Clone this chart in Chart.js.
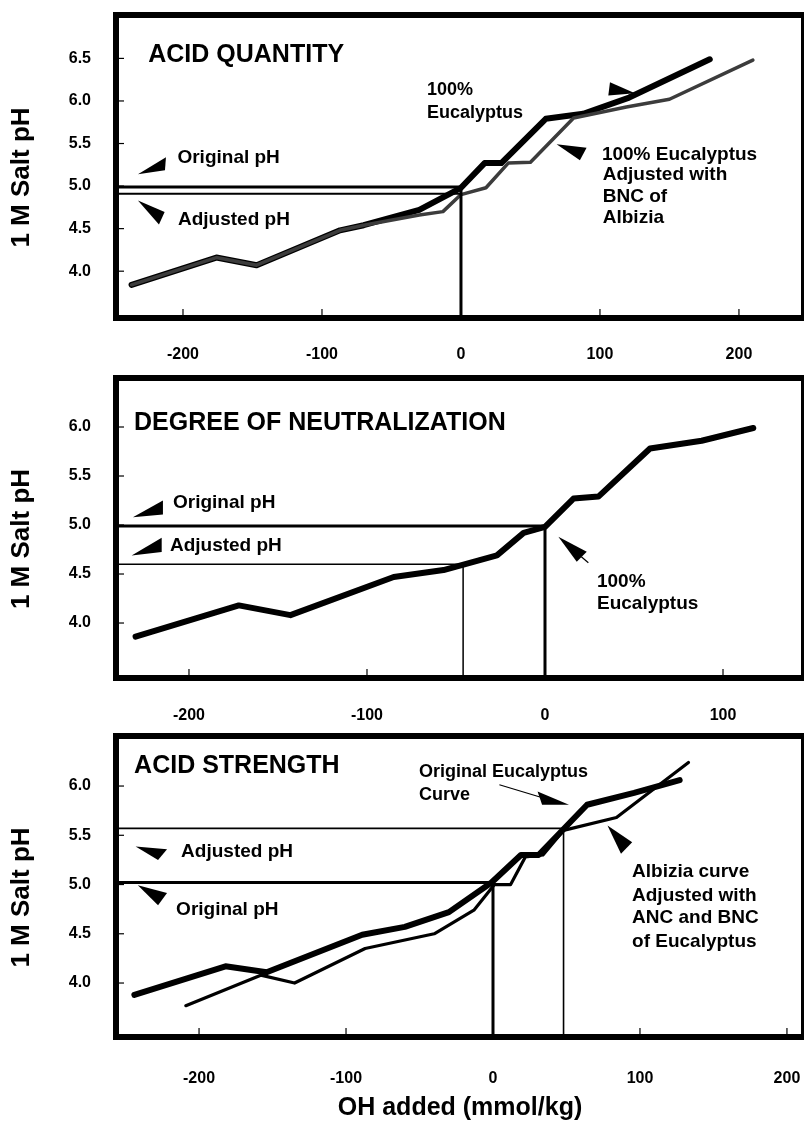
<!DOCTYPE html>
<html>
<head>
<meta charset="utf-8">
<title>Acid quantity, neutralization and strength</title>
<script src="https://cdn.jsdelivr.net/npm/chart.js@4.4.0/dist/chart.umd.min.js"></script>
<style>
  html, body { margin: 0; padding: 0; background: #fff; }
  body { width: 804px; height: 1129px; position: relative; overflow: hidden; }
  .panel { position: absolute; left: 0; width: 804px; }
  .panel canvas { display: block; }
</style>
</head>
<body>
<div class="panel" style="top:0;height:360px"><canvas id="quantity"></canvas></div>
<div class="panel" style="top:362px;height:358px"><canvas id="neutral"></canvas></div>
<div class="panel" style="top:722px;height:407px"><canvas id="strength"></canvas></div>

<script>
// ---- values (OH added in mmol/kg, 1 M salt pH) ----

// ACID QUANTITY
const quantEucX  = [-237, -176, -147, -87, -70, -30, 0, 17, 29, 61, 88, 121, 179];
const quantEucPH = [3.84, 4.16, 4.07, 4.48, 4.54, 4.72, 4.98, 5.27, 5.27, 5.79, 5.85, 6.04, 6.49];
const quantAdjX  = [-237, -176, -147, -87, -70, -30, -13, 0, 18, 34, 50, 81, 119, 150, 210];
const quantAdjPH = [3.84, 4.16, 4.07, 4.48, 4.54, 4.66, 4.70, 4.90, 4.98, 5.27, 5.28, 5.80, 5.93, 6.02, 6.48];
const quantRefPH = [4.99, 4.91];   // original, adjusted
const quantRefX  = [0, 0];

// DEGREE OF NEUTRALIZATION
const neutEucX  = [-230, -172, -143, -85, -57, -27, -12, 0, 16, 30, 59, 88, 117];
const neutEucPH = [3.86, 4.18, 4.08, 4.47, 4.54, 4.69, 4.92, 4.98, 5.27, 5.29, 5.78, 5.86, 5.99];
const neutRefPH = [4.99, 4.60];
const neutRefX  = [0, -46];

// ACID STRENGTH
const strEucX  = [-244, -182, -154, -89, -60, -30, -1, 19, 31, 64, 96, 127];
const strEucPH = [3.88, 4.17, 4.11, 4.49, 4.57, 4.72, 5.02, 5.30, 5.30, 5.81, 5.93, 6.06];
const strAlbX  = [-209, -158, -135, -87, -40, -13, 1, 12, 22, 34, 48, 84, 133];
const strAlbPH = [3.77, 4.08, 4.00, 4.35, 4.50, 4.74, 5.00, 5.00, 5.28, 5.30, 5.55, 5.68, 6.24];
const strRefPH = [5.02, 5.57];
const strRefX  = [0, 48];

// tick labels
const quantXTicks = [-200, -100, 0, 100, 200];
const quantYTicks = [4.0, 4.5, 5.0, 5.5, 6.0, 6.5];
const neutXTicks  = [-200, -100, 0, 100];
const neutYTicks  = [4.0, 4.5, 5.0, 5.5, 6.0];
const strXTicks   = [-200, -100, 0, 100, 200];
const strYTicks   = [4.0, 4.5, 5.0, 5.5, 6.0];

const FONT = '"Liberation Sans", Arial, Helvetica, sans-serif';
const Y_TITLE = '1 M Salt pH';

function pts(xs, ys) {
  return xs.map((x, i) => ({ x: x, y: ys[i] }));
}

function curve(xs, ys, width, color) {
  return {
    data: pts(xs, ys),
    borderColor: color,
    borderWidth: width,
    pointRadius: 0,
    borderCapStyle: 'round',
    borderJoinStyle: 'round',
    tension: 0
  };
}

// horizontal pH level from the left frame to the curve, then down to the x axis
function refLine(xMin, yMin, x0, ph, width) {
  return {
    data: [{ x: xMin, y: ph }, { x: x0, y: ph }, { x: x0, y: yMin }],
    borderColor: '#000',
    borderWidth: width,
    pointRadius: 0,
    borderJoinStyle: 'miter',
    tension: 0
  };
}

// frame, inner tick marks, y title, labels and arrowheads
function notesPlugin(notes, xTicks, yTicks) {
  return {
    id: 'notes',
    afterDatasetsDraw(chart) {
      const { ctx, chartArea: a } = chart;
      const sx = chart.scales.x, sy = chart.scales.y;
      ctx.save();
      ctx.fillStyle = '#000';
      ctx.strokeStyle = '#000';

      ctx.lineWidth = 1.2;
      xTicks.forEach(v => {
        const px = sx.getPixelForValue(v);
        ctx.beginPath(); ctx.moveTo(px, a.bottom); ctx.lineTo(px, a.bottom - 9); ctx.stroke();
      });
      yTicks.forEach(v => {
        const py = sy.getPixelForValue(v);
        ctx.beginPath(); ctx.moveTo(a.left, py); ctx.lineTo(a.left + 8, py); ctx.stroke();
      });

      ctx.lineWidth = 6;
      ctx.strokeRect(a.left, a.top, a.right - a.left, a.bottom - a.top);

      // rotated axis title, sitting a little below the middle of the frame
      ctx.save();
      ctx.translate(22, (a.top + a.bottom) / 2 + 11);
      ctx.rotate(-Math.PI / 2);
      ctx.textAlign = 'center';
      ctx.textBaseline = 'middle';
      ctx.font = 'bold 26px ' + FONT;
      ctx.fillText(Y_TITLE, 0, 0);
      ctx.restore();

      ctx.textBaseline = 'middle';
      ctx.textAlign = 'left';
      notes.texts.forEach(t => {
        ctx.font = (t.bold ? 'bold ' : '') + t.size + 'px ' + FONT;
        ctx.fillText(t.text, sx.getPixelForValue(t.x), sy.getPixelForValue(t.y));
      });

      notes.arrows.forEach(ar => {
        const px = sx.getPixelForValue(ar.x), py = sy.getPixelForValue(ar.y);
        ctx.beginPath();
        ctx.moveTo(px, py);
        ctx.lineTo(px + ar.p[0], py + ar.p[1]);
        ctx.lineTo(px + ar.q[0], py + ar.q[1]);
        ctx.closePath();
        ctx.fill();
        if (ar.tail) {
          ctx.lineWidth = 1.2;
          ctx.beginPath();
          ctx.moveTo(px + ar.tail[0], py + ar.tail[1]);
          ctx.lineTo(px + ar.tail[2], py + ar.tail[3]);
          ctx.stroke();
        }
      });
      ctx.restore();
    }
  };
}

// keep the plot frame where the figure has it: no extra room for edge labels
function noEdgePadding(s) {
  s.paddingTop = 0;
  s.paddingBottom = 0;
  s.paddingLeft = 0;
  s.paddingRight = 0;
}

function makeChart(id, cfg) {
  const tickFont = { family: FONT, size: 16, weight: 'bold' };
  return new Chart(document.getElementById(id), {
    type: 'line',
    data: { datasets: cfg.datasets },
    options: {
      responsive: true,
      maintainAspectRatio: false,
      animation: false,
      layout: { padding: { top: cfg.padTop, right: 0, bottom: 0, left: 0 } },
      plugins: { legend: { display: false }, tooltip: { enabled: false } },
      scales: {
        x: {
          type: 'linear',
          min: cfg.xMin,
          max: cfg.xMax,
          grid: { display: false },
          border: { display: false },
          afterBuildTicks: s => { s.ticks = cfg.xTicks.map(v => ({ value: v })); },
          afterFit: s => { s.height = cfg.xAxisH; noEdgePadding(s); },
          ticks: {
            color: '#000', padding: cfg.xPad, font: tickFont,
            maxRotation: 0, autoSkip: false,
            callback: v => String(v)
          },
          title: {
            display: !!cfg.xTitle,
            text: cfg.xTitle || '',
            color: '#000',
            font: { family: FONT, size: 25, weight: 'bold' },
            padding: { top: 0, bottom: 6 }
          }
        },
        y: {
          type: 'linear',
          min: cfg.yMin,
          max: cfg.yMax,
          grid: { display: false },
          border: { display: false },
          afterBuildTicks: s => { s.ticks = cfg.yTicks.map(v => ({ value: v })); },
          afterFit: s => { s.width = 116; noEdgePadding(s); },
          ticks: {
            color: '#000', padding: 17, font: tickFont,
            callback: v => Number(v).toFixed(1)
          }
        }
      }
    },
    plugins: [notesPlugin(cfg.notes, cfg.xTicks, cfg.yTicks)]
  });
}

// ---- ACID QUANTITY ----
const q = { xMin: -248.2, xMax: 246.8, yMin: 3.45, yMax: 7.01 };
makeChart('quantity', {
  padTop: 15, xAxisH: 42, xPad: 19,
  xMin: q.xMin, xMax: q.xMax, yMin: q.yMin, yMax: q.yMax,
  xTicks: quantXTicks, yTicks: quantYTicks,
  datasets: [
    refLine(q.xMin, q.yMin, quantRefX[1], quantRefPH[1], 1.8),
    refLine(q.xMin, q.yMin, quantRefX[0], quantRefPH[0], 3),
    curve(quantAdjX, quantAdjPH, 3.5, '#3c3c3c'),
    curve(quantEucX, quantEucPH, 6, '#000')
  ],
  notes: {
    texts: [
      { text: 'ACID QUANTITY', x: -225, y: 6.54, size: 25, bold: true },
      { text: '100%', x: -24.5, y: 6.13, size: 18, bold: true },
      { text: 'Eucalyptus', x: -24.5, y: 5.86, size: 18, bold: true },
      { text: 'Original pH', x: -204, y: 5.33, size: 19, bold: true },
      { text: 'Adjusted pH', x: -203.6, y: 4.61, size: 19, bold: true },
      { text: '100% Eucalyptus', x: 101.4, y: 5.37, size: 19, bold: true },
      { text: 'Adjusted with', x: 102, y: 5.13, size: 19, bold: true },
      { text: 'BNC of', x: 102, y: 4.87, size: 19, bold: true },
      { text: 'Albizia', x: 102, y: 4.63, size: 19, bold: true }
    ],
    arrows: [
      { x: -232.4, y: 5.14, p: [28, -17], q: [27, -4] },
      { x: -217.3, y: 4.55, p: [-21, -24], q: [5.7, -12.3] },
      { x: 125.2, y: 6.09, p: [-25, -11], q: [-26.7, 2.3] },
      { x: 68.8, y: 5.49, p: [30, 3.3], q: [23.3, 16] }
    ]
  }
});

// ---- DEGREE OF NEUTRALIZATION ----
const n = { xMin: -241.0, xMax: 145.5, yMin: 3.439, yMax: 6.5 };
makeChart('neutral', {
  padTop: 16, xAxisH: 42, xPad: 20,
  xMin: n.xMin, xMax: n.xMax, yMin: n.yMin, yMax: n.yMax,
  xTicks: neutXTicks, yTicks: neutYTicks,
  datasets: [
    refLine(n.xMin, n.yMin, neutRefX[1], neutRefPH[1], 1.5),
    refLine(n.xMin, n.yMin, neutRefX[0], neutRefPH[0], 3),
    curve(neutEucX, neutEucPH, 6, '#000')
  ],
  notes: {
    texts: [
      { text: 'DEGREE OF NEUTRALIZATION', x: -230.9, y: 6.04, size: 25, bold: true },
      { text: 'Original pH', x: -209, y: 5.23, size: 19, bold: true },
      { text: 'Adjusted pH', x: -210.7, y: 4.79, size: 19, bold: true },
      { text: '100%', x: 29.2, y: 4.42, size: 19, bold: true },
      { text: 'Eucalyptus', x: 29.2, y: 4.20, size: 19, bold: true }
    ],
    arrows: [
      { x: -231.5, y: 5.08, p: [30, -16.7], q: [30, -2.7] },
      { x: -232.2, y: 4.69, p: [30, -17.7], q: [30, -3.3] },
      { x: 7.5, y: 4.88, p: [28.4, 15], q: [18.4, 25], tail: [23, 20, 30, 26] }
    ]
  }
});

// ---- ACID STRENGTH ----
const s = { xMin: -256.5, xMax: 211.6, yMin: 3.452, yMax: 6.508 };
makeChart('strength', {
  padTop: 14, xAxisH: 92, xPad: 24, xTitle: 'OH added (mmol/kg)',
  xMin: s.xMin, xMax: s.xMax, yMin: s.yMin, yMax: s.yMax,
  xTicks: strXTicks, yTicks: strYTicks,
  datasets: [
    refLine(s.xMin, s.yMin, strRefX[1], strRefPH[1], 1.6),
    refLine(s.xMin, s.yMin, strRefX[0], strRefPH[0], 3),
    curve(strAlbX, strAlbPH, 3.2, '#000'),
    curve(strEucX, strEucPH, 6, '#000')
  ],
  notes: {
    texts: [
      { text: 'ACID STRENGTH', x: -244.2, y: 6.20, size: 25, bold: true },
      { text: 'Original Eucalyptus', x: -50.3, y: 6.14, size: 18, bold: true },
      { text: 'Curve', x: -50.3, y: 5.91, size: 18, bold: true },
      { text: 'Adjusted pH', x: -212.2, y: 5.33, size: 19, bold: true },
      { text: 'Original pH', x: -215.6, y: 4.74, size: 19, bold: true },
      { text: 'Albizia curve', x: 94.6, y: 5.13, size: 19, bold: true },
      { text: 'Adjusted with', x: 94.6, y: 4.89, size: 19, bold: true },
      { text: 'ANC and BNC', x: 94.6, y: 4.66, size: 19, bold: true },
      { text: 'of Eucalyptus', x: 94.6, y: 4.42, size: 19, bold: true }
    ],
    arrows: [
      { x: -227.9, y: 5.25, p: [-22.4, -13.3], q: [9, -10.7] },
      { x: -227.9, y: 4.79, p: [-20.2, -20], q: [9, -12.3] },
      { x: 51.7, y: 5.81, p: [-31.4, -13.3], q: [-26.9, 0], tail: [-29, -7.7, -69.6, -20] },
      { x: 77.9, y: 5.60, p: [24.7, 16.7], q: [13.5, 28.3] }
    ]
  }
});
</script>
</body>
</html>
